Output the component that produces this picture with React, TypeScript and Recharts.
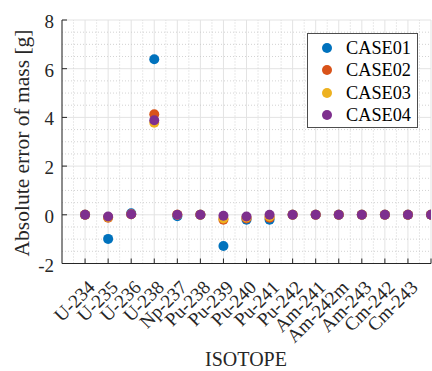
import React from 'react';
import { ScatterChart, Scatter, XAxis, YAxis, CartesianGrid, ReferenceLine, Legend } from 'recharts';

const ISOTOPES = ['U-234', 'U-235', 'U-236', 'U-238', 'Np-237', 'Pu-238', 'Pu-239', 'Pu-240', 'Pu-241', 'Pu-242', 'Am-241', 'Am-242m', 'Am-243', 'Cm-242', 'Cm-243'];
const POSITIONS = [1, 2, 3, 4, 5, 6, 7, 8, 9, 10, 11, 12, 13, 14, 15, 16];

const CASE01 = [0, -0.99, 0.06, 6.39, -0.06, 0, -1.28, -0.2, -0.2, 0, 0, 0, 0, 0, 0, 0];
const CASE02 = [0, -0.12, 0.02, 4.13, 0, 0, -0.2, -0.15, -0.12, 0, 0, 0, 0, 0, 0, 0];
const CASE03 = [0, -0.1, 0.02, 3.78, 0, 0, -0.15, -0.11, -0.07, 0, 0, 0, 0, 0, 0, 0];
const CASE04 = [0, -0.07, 0.02, 3.88, 0, 0, -0.04, -0.07, 0, 0, 0, 0, 0, 0, 0, 0];

const SERIES_NAMES = ['CASE01', 'CASE02', 'CASE03', 'CASE04'];
const SERIES_VALUES = [CASE01, CASE02, CASE03, CASE04];
const COLORS = ['#0072BD', '#D95319', '#EDB120', '#7E2F8E'];

const X_TICKS = [1, 2, 3, 4, 5, 6, 7, 8, 9, 10, 11, 12, 13, 14, 15, 16];
const Y_TICKS = [-2, 0, 2, 4, 6, 8];
const X_MINOR = [0.5, 1.5, 2.5, 3.5, 4.5, 5.5, 6.5, 7.5, 8.5, 9.5, 10.5, 11.5, 12.5, 13.5, 14.5, 15.5];
const Y_MINOR = [-1.5, -1, -0.5, 0.5, 1, 1.5, 2.5, 3, 3.5, 4.5, 5, 5.5, 6.5, 7, 7.5];

const FONT = '"Liberation Serif", "Times New Roman", serif';
const AXIS = '#262626';

const BottomTick = (props: any) => {
  const { x, y, payload } = props;
  const label = ISOTOPES[payload.value - 1] ?? '';
  const tx = x + 11;
  const ty = y + 25;
  return (
    <g>
      <line x1={x} y1={y} x2={x} y2={y - 5} stroke={AXIS} strokeWidth={1} />
      {label ? (
        <text x={tx} y={ty} textAnchor="end" transform={`rotate(-45 ${tx} ${ty})`} fontSize={19} fill={AXIS} fontFamily={FONT}>
          {label}
        </text>
      ) : null}
    </g>
  );
};

const TopTick = (props: any) => {
  const { x, y } = props;
  return <line x1={x} y1={y} x2={x} y2={y + 5} stroke={AXIS} strokeWidth={1} />;
};

const LeftTick = (props: any) => {
  const { x, y, payload } = props;
  return (
    <g>
      <line x1={x} y1={y} x2={x + 5} y2={y} stroke={AXIS} strokeWidth={1} />
      <text x={x - 8} y={y + 8} textAnchor="end" fontSize={19} fill={AXIS} fontFamily={FONT}>
        {payload.value}
      </text>
    </g>
  );
};

const RightTick = (props: any) => {
  const { x, y } = props;
  return <line x1={x} y1={y} x2={x - 5} y2={y} stroke={AXIS} strokeWidth={1} />;
};

const YLabel = () => (
  <text x={29} y={143} textAnchor="middle" transform="rotate(-90 29 143)" fontSize={21.5} fill={AXIS} fontFamily={FONT}>
    Absolute error of mass [g]
  </text>
);

const XLabel = () => (
  <text x={246} y={366} textAnchor="middle" fontSize={20} fill={AXIS} fontFamily={FONT}>
    ISOTOPE
  </text>
);

const renderLegend = (props: any) => {
  const payload = props.payload || [];
  return (
    <div
      style={{
        width: 111,
        height: 95,
        boxSizing: 'border-box',
        border: '1px solid #4d4d4d',
        background: '#fff',
        position: 'relative',
        fontFamily: FONT,
      }}
    >
      {payload.map((p: any, i: number) => (
        <div key={i} style={{ position: 'absolute', left: 0, top: 3 + i * 22.4, height: 22, width: 109 }}>
          <svg width={30} height={22} style={{ position: 'absolute', left: 5, top: 0 }}>
            <circle cx={14} cy={11} r={5} fill={p.color || COLORS[i]} />
          </svg>
          <span style={{ position: 'absolute', left: 38, top: 0, lineHeight: '22px', fontSize: 18.3, color: '#000', whiteSpace: 'nowrap' }}>
            {p.value}
          </span>
        </div>
      ))}
    </div>
  );
};

export default function App() {
  const seriesData = SERIES_VALUES.map((vals) => POSITIONS.map((x, i) => ({ x, y: vals[i] })));
  return (
    <div style={{ position: 'absolute', left: 0, top: 0, width: 432, height: 371, background: '#fff' }}>
      <ScatterChart width={432} height={371} margin={{ top: 20, right: 1, bottom: 0, left: 0 }}>
        <CartesianGrid stroke="#e3e3e3" strokeWidth={1} />
        {X_MINOR.map((v) => (
          <ReferenceLine key={'xm' + v} x={v} stroke="#c8c8c8" strokeDasharray="1 2" strokeWidth={0.8} />
        ))}
        {Y_MINOR.map((v) => (
          <ReferenceLine key={'ym' + v} y={v} stroke="#c8c8c8" strokeDasharray="1 2" strokeWidth={0.8} />
        ))}
        <XAxis
          type="number"
          dataKey="x"
          domain={[0, 16]}
          ticks={X_TICKS}
          interval={0}
          height={107.5}
          tickSize={0}
          tickMargin={0}
          tickLine={false}
          axisLine={{ stroke: AXIS }}
          tick={<BottomTick />}
          label={<XLabel />}
          allowDataOverflow
        />
        <XAxis
          xAxisId="top"
          orientation="top"
          type="number"
          dataKey="x"
          domain={[0, 16]}
          ticks={X_TICKS}
          interval={0}
          height={0}
          tickSize={0}
          tickMargin={0}
          tickLine={false}
          axisLine={{ stroke: AXIS }}
          tick={<TopTick />}
          allowDataOverflow
        />
        <YAxis
          type="number"
          dataKey="y"
          domain={[-2, 8]}
          ticks={Y_TICKS}
          interval={0}
          width={62}
          tickSize={0}
          tickMargin={0}
          tickLine={false}
          axisLine={{ stroke: AXIS }}
          tick={<LeftTick />}
          label={<YLabel />}
          allowDataOverflow
        />
        <YAxis
          yAxisId="right"
          orientation="right"
          type="number"
          dataKey="y"
          domain={[-2, 8]}
          ticks={Y_TICKS}
          interval={0}
          width={0}
          tickSize={0}
          tickMargin={0}
          tickLine={false}
          axisLine={{ stroke: AXIS }}
          tick={<RightTick />}
          allowDataOverflow
        />
        <Legend
          layout="vertical"
          align="center"
          verticalAlign="middle"
          content={renderLegend}
          wrapperStyle={{ left: 307, top: 33, width: 111, height: 95 }}
        />
        {seriesData.map((d, si) => (
          <Scatter
            key={SERIES_NAMES[si]}
            name={SERIES_NAMES[si]}
            data={d}
            fill={COLORS[si]}
            isAnimationActive={false}
            shape={(p: any) => <circle cx={p.cx} cy={p.cy} r={5} fill={COLORS[si]} />}
          />
        ))}
      </ScatterChart>
    </div>
  );
}
